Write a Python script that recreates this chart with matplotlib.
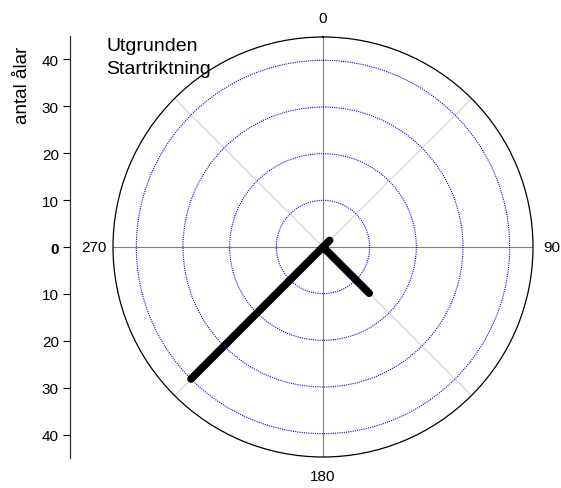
import matplotlib.pyplot as plt
import numpy as np

plt.rcParams['font.family'] = ['Liberation Sans', 'DejaVu Sans']

# start direction (degrees, clockwise from north) and number of eels
directions = [45, 135, 225]
counts = [2, 14, 40]
ring_values = [10, 20, 30, 40]
axis_ticks = [-40, -30, -20, -10, 0, 10, 20, 30, 40]
rmax = 45

fig = plt.figure(figsize=(5.61, 4.89), dpi=100)

# polar chart
ax = fig.add_axes([0.2014, 0.0634, 0.7487, 0.8589], projection='polar')
ax.set_theta_zero_location('N')
ax.set_theta_direction(-1)
ax.set_ylim(0, rmax)
ax.set_yticks(ring_values)
ax.set_yticklabels([])
ax.yaxis.grid(True, color='blue', linestyle=(0, (1, 1)), linewidth=0.8)
ax.set_xticks(np.radians([0, 90, 180, 270]))
ax.set_xticklabels(['0', '90', '180', '270'], fontsize=11)
ax.tick_params(axis='x', pad=3)
ax.xaxis.grid(False)
ax.spines['polar'].set_linewidth(0.9)

# spokes: main directions darker, diagonals light
for a in range(0, 360, 45):
    c = '#808080' if a % 90 == 0 else '#d4d4d4'
    ax.plot([np.radians(a)] * 2, [0, rmax], color=c, linewidth=0.8, zorder=1)

for d, n in zip(directions, counts):
    ax.plot([0, np.radians(d)], [0, n], color='black', linewidth=5.5,
            solid_capstyle='round', zorder=3)

# linear scale on the left
lax = fig.add_axes([0.1248, 0.0613, 0.01, 0.863])
lax.set_ylim(-rmax, rmax)
lax.set_yticks(axis_ticks)
lax.set_yticklabels([str(abs(t)) for t in axis_ticks], fontsize=11)
lax.get_yticklabels()[4].set_fontweight('bold')
lax.tick_params(axis='y', direction='out', length=5, width=0.8, pad=3)
lax.set_xticks([])
for s in ['top', 'right', 'bottom']:
    lax.spines[s].set_visible(False)
lax.spines['left'].set_linewidth(0.9)
lax.spines['left'].set_color('#333333')
lax.patch.set_visible(False)
lax.invert_yaxis()

fig.text(0.04, 0.826, 'antal ålar', rotation=90, fontsize=13.5,
         ha='center', va='center')
fig.text(0.19, 0.904, 'Utgrunden', fontsize=14, va='center')
fig.text(0.19, 0.857, 'Startriktning', fontsize=14, va='center')

fig.savefig('out.png', dpi=100)
